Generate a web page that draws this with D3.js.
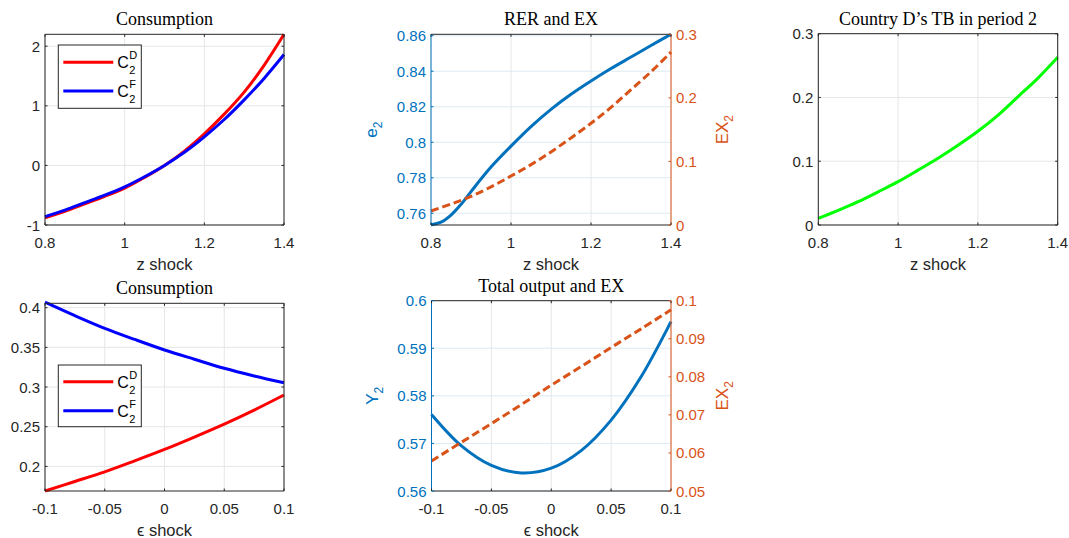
<!DOCTYPE html>
<html>
<head>
<meta charset="utf-8">
<script src="https://cdn.jsdelivr.net/npm/d3@7"></script>
<style>
  body { margin: 0; background: #fff; }
  svg { font-family: "Liberation Sans", Arial, sans-serif; }
  .title { font-family: "Liberation Serif", "DejaVu Serif", serif; font-size: 18px; fill: #000; }
</style>
</head>
<body>
<script>
// Data
const zShock = [0.8, 0.85, 0.9, 0.95, 1.0, 1.05, 1.1, 1.15, 1.2, 1.25, 1.3, 1.35, 1.4]
const c2dZ = [-0.88, -0.77, -0.645, -0.52, -0.38, -0.20, 0.0, 0.24, 0.53, 0.86, 1.23, 1.68, 2.2]
const c2fZ = [-0.86, -0.75, -0.625, -0.50, -0.36, -0.19, 0.0, 0.22, 0.48, 0.77, 1.10, 1.46, 1.86]
const ex2Z = [0.022, 0.033, 0.045, 0.060, 0.077, 0.095, 0.115, 0.137, 0.160, 0.185, 0.213, 0.241, 0.272]
const tbZ = [0.0105, 0.023, 0.0366, 0.052, 0.068, 0.086, 0.1046, 0.125, 0.147, 0.172, 0.201, 0.23, 0.263]

// e2 read on a finer grid near the start where it bends
const zShockE2 = [0.8, 0.825, 0.85, 0.875, 0.9, 0.95, 1.0, 1.05, 1.1, 1.15, 1.2, 1.25, 1.3, 1.35, 1.4]
const e2Z = [0.7535, 0.7550, 0.7590, 0.7650, 0.7722, 0.7860, 0.7978, 0.8088, 0.8185, 0.827, 0.8345, 0.8415, 0.848, 0.8545, 0.8608]

const epsShock = [-0.1, -0.075, -0.05, -0.025, 0, 0.025, 0.05, 0.075, 0.1]
const c2dE = [0.169, 0.181, 0.1932, 0.207, 0.2214, 0.237, 0.2533, 0.271, 0.290]
const c2fE = [0.407, 0.390, 0.374, 0.360, 0.3467, 0.335, 0.3236, 0.314, 0.3054]
const y2E = [0.5761, 0.5695, 0.5654, 0.5638, 0.5648, 0.5685, 0.5749, 0.5840, 0.5956]
const ex2E = [0.0579, 0.0628, 0.0677, 0.0727, 0.0778, 0.0827, 0.0877, 0.0926, 0.0976]

const zTicks = [0.8, 1, 1.2, 1.4]
const epsTicks = [-0.1, -0.05, 0, 0.05, 0.1]

const BLUE = "#0072BD", ORANGE = "#D95319", AX = "#262626"

const svg = d3.select("body").append("svg")
  .attr("width", 1069).attr("height", 538)

const fmt = d => String(+d.toFixed(6))

const panel = cfg => {
  const { box, xDom, xTicks, yDom, yTicks, title, xlabel, right } = cfg
  const x = d3.scaleLinear().domain(xDom).range([box.l, box.r])
  const y = d3.scaleLinear().domain(yDom).range([box.b, box.t])
  const yR = right ? d3.scaleLinear().domain(right.dom).range([box.b, box.t]) : null
  const g = svg.append("g")
  const leftCol = cfg.leftColor || AX
  const hGrid = right ? "#dceaf4" : "#e6e6e6"

  // grid
  g.selectAll(".vg").data(xTicks).enter().append("line")
    .attr("x1", d => x(d)).attr("x2", d => x(d))
    .attr("y1", box.t).attr("y2", box.b)
    .attr("stroke", "#e6e6e6").attr("stroke-width", 1)
  g.selectAll(".hg").data(yTicks).enter().append("line")
    .attr("x1", box.l).attr("x2", box.r)
    .attr("y1", d => y(d)).attr("y2", d => y(d))
    .attr("stroke", hGrid).attr("stroke-width", 1)

  // series
  cfg.series.forEach(s => {
    const sc = s.right ? yR : y
    const line = d3.line().x(d => x(d[0])).y(d => sc(d[1])).curve(d3.curveCatmullRom.alpha(0.5))
    g.append("path")
      .datum(s.xs.map((v, i) => [v, s.ys[i]]))
      .attr("d", line)
      .attr("fill", "none")
      .attr("stroke", s.color)
      .attr("stroke-width", 3)
      .attr("stroke-dasharray", s.dash || null)
  })

  // box
  g.append("line").attr("x1", box.l).attr("x2", box.r).attr("y1", box.t).attr("y2", box.t).attr("stroke", AX)
  g.append("line").attr("x1", box.l).attr("x2", box.r).attr("y1", box.b).attr("y2", box.b).attr("stroke", AX)
  g.append("line").attr("x1", box.l).attr("x2", box.l).attr("y1", box.t).attr("y2", box.b).attr("stroke", leftCol)
  g.append("line").attr("x1", box.r).attr("x2", box.r).attr("y1", box.t).attr("y2", box.b)
    .attr("stroke", right ? ORANGE : AX)

  // x ticks
  xTicks.forEach(t => {
    g.append("line").attr("x1", x(t)).attr("x2", x(t)).attr("y1", box.b).attr("y2", box.b - 2.5).attr("stroke", AX)
    g.append("line").attr("x1", x(t)).attr("x2", x(t)).attr("y1", box.t).attr("y2", box.t + 2.5).attr("stroke", AX)
    g.append("text").attr("x", x(t)).attr("y", box.b + 17)
      .attr("text-anchor", "middle").attr("dominant-baseline", "central")
      .attr("font-size", 15).attr("fill", AX).text(fmt(t))
  })
  // y ticks
  yTicks.forEach(t => {
    g.append("line").attr("x1", box.l).attr("x2", box.l + 2.5).attr("y1", y(t)).attr("y2", y(t)).attr("stroke", leftCol)
    if (!right) g.append("line").attr("x1", box.r).attr("x2", box.r - 2.5).attr("y1", y(t)).attr("y2", y(t)).attr("stroke", AX)
    g.append("text").attr("x", box.l - 5).attr("y", y(t))
      .attr("text-anchor", "end").attr("dominant-baseline", "central")
      .attr("font-size", 15).attr("fill", leftCol).text(fmt(t))
  })
  if (right) {
    right.ticks.forEach(t => {
      g.append("line").attr("x1", box.r).attr("x2", box.r - 2.5).attr("y1", yR(t)).attr("y2", yR(t)).attr("stroke", ORANGE)
      g.append("text").attr("x", box.r + 5).attr("y", yR(t))
        .attr("text-anchor", "start").attr("dominant-baseline", "central")
        .attr("font-size", 15).attr("fill", ORANGE).text(fmt(t))
    })
  }

  // title and x label
  g.append("text").attr("class", "title")
    .attr("x", (box.l + box.r) / 2).attr("y", box.t - 9)
    .attr("text-anchor", "middle").text(title)
  g.append("text").attr("x", (box.l + box.r) / 2).attr("y", box.b + 45)
    .attr("text-anchor", "middle").attr("font-size", 16.5).attr("fill", AX).text(xlabel)

  // y labels with subscripts
  const subLabel = (lx, ly, main, sub, color) => {
    const t = g.append("text")
      .attr("transform", `translate(${lx},${ly}) rotate(-90)`)
      .attr("text-anchor", "middle").attr("font-size", 17).attr("fill", color)
    t.append("tspan").text(main)
    t.append("tspan").attr("font-size", 12).attr("dy", 5).text(sub)
  }
  if (cfg.ylabel) subLabel(box.l - 54, (box.t + box.b) / 2, cfg.ylabel[0], cfg.ylabel[1], BLUE)
  if (right) subLabel(box.r + 57, (box.t + box.b) / 2, "EX", "2", ORANGE)

  // legend
  if (cfg.legend) {
    const lg = cfg.legend
    const leg = g.append("g")
    leg.append("rect").attr("x", lg.x).attr("y", lg.y).attr("width", 83).attr("height", lg.h)
      .attr("fill", "#fff").attr("stroke", AX).attr("stroke-width", 1)
    lg.items.forEach((it, i) => {
      const cy = lg.y + lg.first + i * lg.step
      leg.append("line").attr("x1", lg.x + 5).attr("x2", lg.x + 55).attr("y1", cy).attr("y2", cy)
        .attr("stroke", it.color).attr("stroke-width", 3)
      leg.append("text").attr("x", lg.x + 59).attr("y", cy + 6).attr("font-size", 16).attr("fill", "#000").text("C")
      leg.append("text").attr("x", lg.x + 71).attr("y", cy - 3).attr("font-size", 11).attr("fill", "#000").text(it.sup)
      leg.append("text").attr("x", lg.x + 71).attr("y", cy + 12).attr("font-size", 11).attr("fill", "#000").text("2")
    })
  }
}

// Row 1
panel({
  box: { l: 45, r: 284, t: 34.3, b: 225 },
  xDom: [0.8, 1.4], xTicks: zTicks, yDom: [-1, 2.2], yTicks: [-1, 0, 1, 2],
  title: "Consumption", xlabel: "z shock",
  series: [
    { xs: zShock, ys: c2dZ, color: "#ff0000" },
    { xs: zShock, ys: c2fZ, color: "#0000ff" }
  ],
  legend: { x: 58.3, y: 45, h: 63.3, first: 17.3, step: 28.7,
    items: [{ color: "#ff0000", sup: "D" }, { color: "#0000ff", sup: "F" }] }
})

panel({
  box: { l: 431, r: 671, t: 34.3, b: 225 },
  xDom: [0.8, 1.4], xTicks: zTicks, yDom: [0.7534, 0.8608], yTicks: [0.76, 0.78, 0.8, 0.82, 0.84, 0.86],
  title: "RER and EX", xlabel: "z shock", leftColor: BLUE, ylabel: ["e", "2"],
  right: { dom: [0, 0.3], ticks: [0, 0.1, 0.2, 0.3] },
  series: [
    { xs: zShockE2, ys: e2Z, color: BLUE },
    { xs: zShock, ys: ex2Z, color: ORANGE, right: true, dash: "8,4" }
  ]
})

panel({
  box: { l: 818.3, r: 1057.7, t: 33.7, b: 225 },
  xDom: [0.8, 1.4], xTicks: zTicks, yDom: [0, 0.3], yTicks: [0, 0.1, 0.2, 0.3],
  title: "Country D\u2019s TB in period 2", xlabel: "z shock",
  series: [{ xs: zShock, ys: tbZ, color: "#00ff00" }]
})

// Row 2
panel({
  box: { l: 45, r: 284, t: 303.3, b: 491 },
  xDom: [-0.1, 0.1], xTicks: epsTicks, yDom: [0.169, 0.4055], yTicks: [0.2, 0.25, 0.3, 0.35, 0.4],
  title: "Consumption", xlabel: "\u03f5 shock",
  series: [
    { xs: epsShock, ys: c2dE, color: "#ff0000" },
    { xs: epsShock, ys: c2fE, color: "#0000ff" }
  ],
  legend: { x: 58.3, y: 365, h: 61.7, first: 16.7, step: 29,
    items: [{ color: "#ff0000", sup: "D" }, { color: "#0000ff", sup: "F" }] }
})

panel({
  box: { l: 431.5, r: 671, t: 300.7, b: 491 },
  xDom: [-0.1, 0.1], xTicks: epsTicks, yDom: [0.56, 0.6], yTicks: [0.56, 0.57, 0.58, 0.59, 0.6],
  title: "Total output and EX", xlabel: "\u03f5 shock", leftColor: BLUE, ylabel: ["Y", "2"],
  right: { dom: [0.05, 0.1], ticks: [0.05, 0.06, 0.07, 0.08, 0.09, 0.1] },
  series: [
    { xs: epsShock, ys: y2E, color: BLUE },
    { xs: epsShock, ys: ex2E, color: ORANGE, right: true, dash: "8,4" }
  ]
})
</script>
</body>
</html>
